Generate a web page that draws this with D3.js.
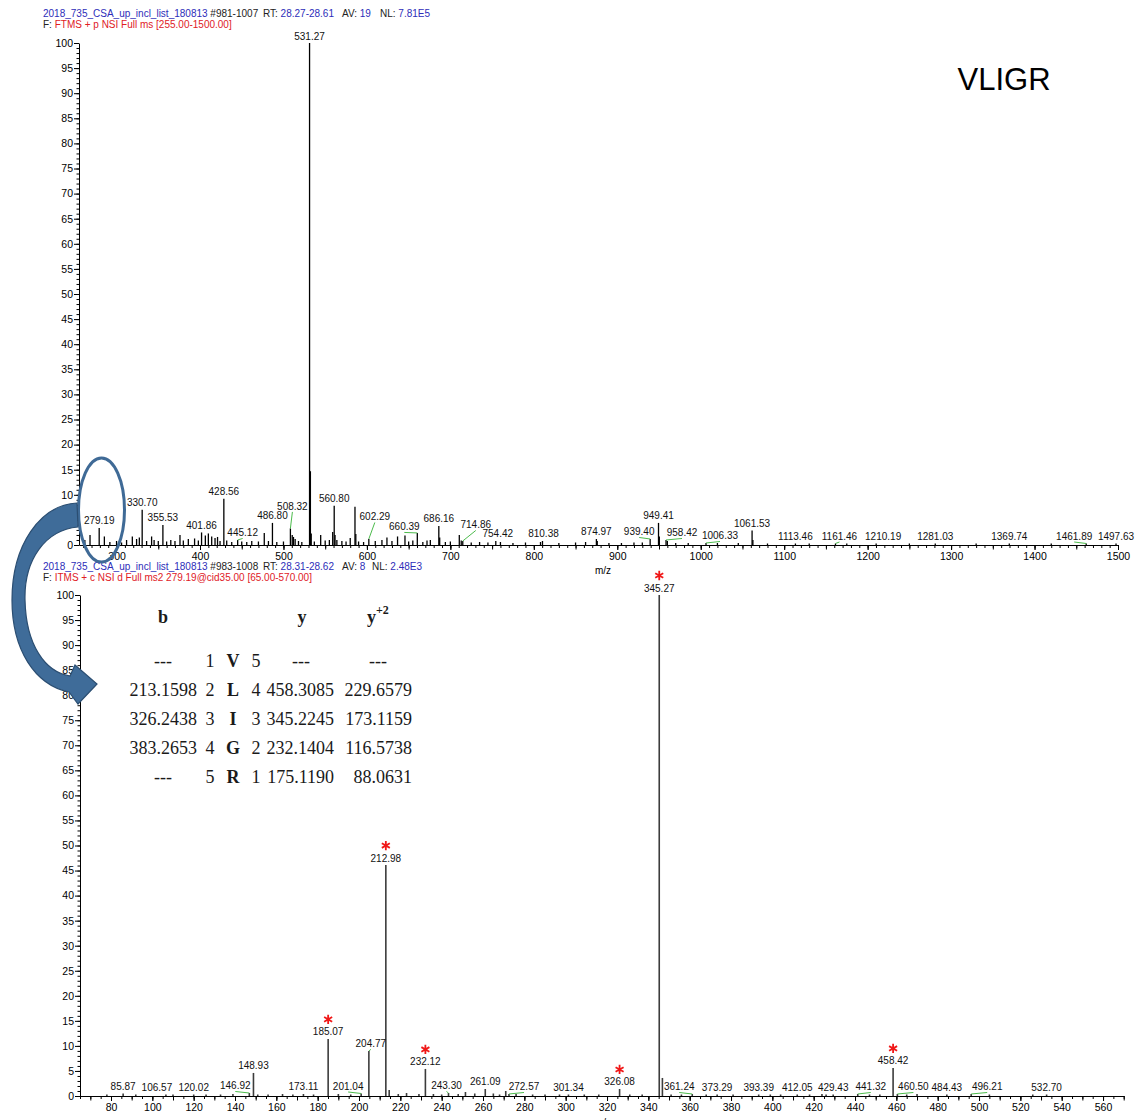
<!DOCTYPE html>
<html>
<head>
<meta charset="utf-8">
<script src="https://cdn.jsdelivr.net/npm/d3@7"></script>
<style>
  body { margin: 0; background: #fff; }
  svg { display: block; }
  text { font-family: "Liberation Sans", Arial, sans-serif; }
</style>
</head>
<body>
<svg id="chart" width="1143" height="1120"></svg>
<script>
// ---- MS1 full scan, labelled peaks (m/z, relative abundance %)
var ms1Mz  = [279.19, 330.70, 355.53, 401.86, 428.56, 445.12, 486.80, 508.32, 531.27, 560.80,
              602.29, 660.39, 686.16, 714.86, 754.42, 810.38, 874.97, 939.40, 949.41, 958.42,
              1006.33, 1061.53, 1113.46, 1161.46, 1210.19, 1281.03, 1369.74, 1461.89, 1497.63];
var ms1Int = [3.4, 7.0, 4.0, 2.5, 9.2, 1.0, 4.4, 3.3, 100, 7.8,
              1.2, 2.4, 3.8, 0.8, 0.8, 0.8, 1.2, 1.2, 4.4, 1.0,
              0.4, 2.9, 0.3, 0.3, 0.3, 0.3, 0.3, 0.3, 0.3];
// ---- MS1 unlabelled peaks
var ms1MinorMz  = [262, 268.2, 285.4, 292, 300, 306, 312, 318.9, 324, 327.3, 336, 342, 345, 350, 360, 365, 370, 376, 380, 386,
                   393.5, 398, 406.4, 410, 414, 418, 421, 424, 432, 438, 450, 456, 462, 470, 477, 482, 492, 500, 510.5, 512,
                   514, 518, 522, 532.27, 533.27, 537, 544.6, 550, 555, 559, 561.8, 564, 570, 575, 580, 585.7, 586.7, 590, 596, 610,
                   618, 624, 630, 636.7, 645.6, 650, 655, 667, 672, 676, 687.2, 694, 700, 710.7, 713, 725, 735, 745, 760, 775,
                   790, 808, 830, 850, 862, 876, 890, 905, 920, 930, 950.4, 960, 970, 985, 1020, 1045, 1062.5, 1080, 1130, 1175,
                   1250, 1330, 1420];
var ms1MinorInt = [1.0, 2.0, 1.7, 0.6, 0.8, 0.5, 1.0, 1.7, 1.2, 1.5, 0.8, 1.7, 1.0, 0.8, 0.7, 1.0, 0.8, 2.0, 0.9, 1.2,
                   1.3, 0.9, 1.9, 2.3, 1.7, 1.4, 1.6, 0.8, 0.9, 0.6, 0.7, 0.6, 0.8, 0.7, 2.4, 0.8, 0.6, 0.7, 2.0, 1.6,
                   1.2, 0.8, 0.6, 14.7, 2.3, 0.7, 2.0, 0.9, 1.0, 2.6, 2.0, 1.0, 0.8, 0.7, 1.4, 7.6, 2.2, 0.7, 0.6, 0.8,
                   1.0, 1.5, 0.8, 1.7, 1.9, 0.7, 0.9, 0.6, 0.9, 1.0, 1.5, 0.6, 0.7, 2.0, 0.9, 0.5, 0.6, 0.5, 0.6, 0.4,
                   0.5, 0.6, 0.4, 0.5, 0.6, 0.8, 0.4, 0.4, 0.5, 0.5, 1.7, 0.8, 0.4, 0.4, 0.4, 0.4, 1.0, 0.3, 0.3, 0.3,
                   0.3, 0.3, 0.3];

// ---- MS2 of 279.19, labelled peaks
var ms2Mz  = [85.87, 106.57, 120.02, 146.92, 148.93, 173.11, 185.07, 201.04, 204.77, 212.98,
              232.12, 243.30, 261.09, 272.57, 301.34, 326.08, 345.27, 361.24, 373.29, 393.39,
              412.05, 429.43, 441.32, 458.42, 460.50, 484.43, 496.21, 532.70];
var ms2Int = [0.5, 0.3, 0.3, 0.6, 4.6, 0.4, 11.4, 0.5, 9.0, 46.1,
              5.4, 0.6, 1.4, 0.4, 0.3, 1.4, 100, 0.4, 0.3, 0.3,
              0.3, 0.3, 0.4, 5.6, 0.4, 0.3, 0.4, 0.3];
// peaks matched to fragment ions (red asterisk)
var ms2Matched = [185.07, 212.98, 232.12, 326.08, 345.27, 458.42];
// ---- MS2 unlabelled peaks
var ms2MinorMz  = [78, 92, 110, 126, 133, 139, 151, 156, 163, 168, 178, 190, 196, 214.6, 219, 223, 229, 236, 240, 248,
                   251.5, 256, 265, 268, 271, 276, 284, 290, 297, 309, 316, 331, 337, 346.8, 351, 356, 368, 381, 399, 404,
                   418, 424, 426, 447, 452, 465, 470, 505, 526];
var ms2MinorInt = [0.3, 0.3, 0.3, 0.3, 0.3, 0.4, 0.3, 0.3, 0.4, 0.3, 0.3, 0.4, 0.3, 1.2, 0.4, 0.6, 0.4, 0.4, 0.3, 0.4,
                   0.8, 0.5, 0.5, 0.3, 1.0, 0.4, 0.3, 0.3, 0.3, 0.3, 0.3, 0.3, 0.3, 3.6, 0.3, 0.3, 0.3, 0.3, 0.3, 0.3,
                   0.3, 0.4, 0.3, 0.3, 0.3, 0.3, 0.4, 0.3, 0.3];

// ---- fragment ion table for VLIGR
var bIons     = ["---", "213.1598", "326.2438", "383.2653", "---"];
var bIndex    = ["1", "2", "3", "4", "5"];
var residues  = ["V", "L", "I", "G", "R"];
var yIndex    = ["5", "4", "3", "2", "1"];
var yIons     = ["---", "458.3085", "345.2245", "232.1404", "175.1190"];
var y2Ions    = ["---", "229.6579", "173.1159", "116.5738", "88.0631"];

var peptide = "VLIGR";

// ---------------------------------------------------------------
var svg = d3.select("#chart");
var fmt = d3.format(".2f");
var BLUE = "#2d2db9", RED = "#e0201f", GREEN = "#4cbb4c";

function header(y, parts) {
  var t = svg.append("text").attr("y", y).attr("font-size", 10);
  parts.forEach(function (p) {
    var s = t.append("tspan").attr("fill", p[1]).text(p[0]);
    if (p[2] != null) s.attr("x", p[2]);
  });
}

function drawPanel(o) {
  var g = svg.append("g");
  var y0 = o.y(0);
  var xr = o.x.range();

  // minor y ticks
  g.append("g").attr("transform", "translate(" + xr[0] + ",0)")
    .call(d3.axisLeft(o.y).tickValues(d3.range(0, 101, 1)).tickSize(2.5).tickFormat(""))
    .call(function (a) { a.select(".domain").remove(); });
  // major y ticks
  g.append("g").attr("transform", "translate(" + xr[0] + ",0)")
    .call(d3.axisLeft(o.y).tickValues(d3.range(0, 101, 5)).tickSize(5).tickSizeOuter(0).tickPadding(1))
    .call(function (a) { a.selectAll("text").attr("font-size", 10.5).attr("font-family", null); });

  // minor x ticks
  g.append("g").attr("transform", "translate(0," + y0 + ")")
    .call(d3.axisBottom(o.x).tickValues(o.minorTicks).tickSize(3).tickFormat(""))
    .call(function (a) { a.select(".domain").remove(); });
  g.append("g").attr("transform", "translate(0," + y0 + ")")
    .call(d3.axisBottom(o.x).tickValues(o.midTicks).tickSize(4.5).tickFormat(""))
    .call(function (a) { a.select(".domain").remove(); });
  // major x ticks
  g.append("g").attr("transform", "translate(0," + y0 + ")")
    .call(d3.axisBottom(o.x).tickValues(o.majorTicks).tickSize(5).tickSizeOuter(0).tickFormat(d3.format("d")))
    .call(function (a) { a.selectAll("text").attr("font-size", 10.5).attr("font-family", null); });

  // peaks
  var minor = o.minorMz.map(function (m, i) { return { mz: m, v: o.minorInt[i] }; });
  var main = o.mz.map(function (m, i) { return { mz: m, v: o.int[i] }; });
  g.append("g").selectAll("line").data(minor.concat(main)).join("line")
    .attr("x1", function (d) { return o.x(d.mz); })
    .attr("x2", function (d) { return o.x(d.mz); })
    .attr("y1", y0)
    .attr("y2", function (d) { return o.y(d.v); })
    .attr("stroke", o.peakColor).attr("stroke-width", o.peakWidth);

  // labels
  main.forEach(function (d) {
    var key = fmt(d.mz);
    var n = o.nudge[key] || [0, 0];
    var px = o.x(d.mz), py = o.y(d.v);
    var lx = px + n[0], ly = py - 3.5 + n[1];
    if (o.leaders.indexOf(key) >= 0) {
      g.append("line").attr("x1", lx).attr("y1", ly + 2).attr("x2", px).attr("y2", py)
        .attr("stroke", GREEN).attr("stroke-width", 1);
    }
    g.append("text").attr("x", lx).attr("y", ly).attr("text-anchor", "middle")
      .attr("font-size", 10).attr("fill", "#111").text(key);
    if (o.matched && o.matched.indexOf(d.mz) >= 0) {
      g.append("path").attr("d", d3.symbol(d3.symbolAsterisk, 60)())
        .attr("transform", "translate(" + lx + "," + (ly - 16) + ")")
        .attr("stroke", "#f01818").attr("stroke-width", 1.8).attr("fill", "none");
    }
  });
}

// ---- top panel: full MS
var x1 = d3.scaleLinear().domain([255, 1500]).range([79, 1118]);
var y1 = d3.scaleLinear().domain([0, 100]).range([545, 43]);

header(17, [["2018_735_CSA_up_incl_list_180813", BLUE, 43], [" #981-1007", "#222"],
            ["RT: ", "#222", 263], ["28.27-28.61", BLUE], ["AV: ", "#222", 342], ["19", BLUE],
            ["NL: ", "#222", 380], ["7.81E5", BLUE]]);
header(28, [["F: ", "#222", 43], ["FTMS + p NSI Full ms [255.00-1500.00]", RED]]);

drawPanel({
  x: x1, y: y1,
  mz: ms1Mz, int: ms1Int, minorMz: ms1MinorMz, minorInt: ms1MinorInt,
  majorTicks: d3.range(300, 1501, 100),
  midTicks: d3.range(300, 1501, 50),
  minorTicks: d3.range(260, 1501, 10),
  peakColor: "#000", peakWidth: 1.3,
  nudge: { "445.12": [5, 0], "508.32": [2, -15], "602.29": [6, -15], "660.39": [-13, 1], "714.86": [13, -9],
           "754.42": [2, 0], "810.38": [1, 0], "939.40": [-11, 0], "958.42": [16, 0], "1006.33": [14, 0],
           "1161.46": [4, 0], "1210.19": [7, 0], "1461.89": [-12, 0] },
  leaders: ["445.12", "508.32", "602.29", "660.39", "714.86", "939.40", "958.42", "1006.33", "1161.46", "1461.89"]
});
svg.append("text").attr("x", 603).attr("y", 574).attr("text-anchor", "middle")
  .attr("font-size", 10).text("m/z");

// ---- bottom panel: MS2 of 279.19
var x2 = d3.scaleLinear().domain([65, 570]).range([80, 1123.7]);
var y2 = d3.scaleLinear().domain([0, 100]).range([1096, 595]);

header(570, [["2018_735_CSA_up_incl_list_180813", BLUE, 43], [" #983-1008", "#222"],
             ["RT: ", "#222", 263], ["28.31-28.62", BLUE], ["AV: ", "#222", 342], ["8", BLUE],
             ["NL: ", "#222", 372], ["2.48E3", BLUE]]);
header(581, [["F: ", "#222", 43], ["ITMS + c NSI d Full ms2 279.19@cid35.00 [65.00-570.00]", RED]]);

drawPanel({
  x: x2, y: y2,
  mz: ms2Mz, int: ms2Int, minorMz: ms2MinorMz, minorInt: ms2MinorInt,
  majorTicks: d3.range(80, 561, 20),
  midTicks: d3.range(70, 571, 10),
  minorTicks: d3.range(65, 571, 5),
  peakColor: "#3c3c3c", peakWidth: 1.6,
  matched: ms2Matched,
  nudge: { "106.57": [-9, 0], "146.92": [-14, 0], "201.04": [-13, 0], "204.77": [2, 0], "243.30": [-2, 0],
           "272.57": [15, 0], "361.24": [-13, 0], "441.32": [13, 0], "460.50": [16, 0], "496.21": [16, 0] },
  leaders: ["146.92", "201.04", "204.77", "243.30", "272.57", "361.24", "441.32", "460.50", "496.21"]
});
svg.append("text").attr("x", 603).attr("y", 1126).attr("text-anchor", "middle")
  .attr("font-size", 10).text("m/z");

// ---- peptide name
svg.append("text").attr("x", 1004).attr("y", 90).attr("text-anchor", "middle")
  .attr("font-family", "'Open Sans', sans-serif").attr("font-size", 31).text(peptide);

// ---- fragment table
var tab = svg.append("g").attr("font-size", 18).attr("fill", "#1a1a1a");
function cell(txt, x, y, anchor, bold) {
  tab.append("text").attr("x", x).attr("y", y).attr("text-anchor", anchor)
    .attr("font-weight", bold ? "bold" : null)
    .style("font-family", "'Liberation Serif', serif").text(txt);
}
cell("b", 163, 623, "middle", true);
cell("y", 302, 623, "middle", true);
var yh = tab.append("text").attr("x", 367).attr("y", 623).attr("font-weight", "bold")
  .style("font-family", "'Liberation Serif', serif");
yh.append("tspan").text("y");
yh.append("tspan").attr("dy", -9).attr("font-size", 12).text("+2");

residues.forEach(function (r, i) {
  var y = 667 + i * 29;
  if (bIons[i] === "---") cell(bIons[i], 163, y, "middle"); else cell(bIons[i], 197, y, "end");
  cell(bIndex[i], 210, y, "middle");
  cell(r, 233, y, "middle", true);
  cell(yIndex[i], 256, y, "middle");
  if (yIons[i] === "---") cell(yIons[i], 301, y, "middle"); else cell(yIons[i], 334, y, "end");
  if (y2Ions[i] === "---") cell(y2Ions[i], 378, y, "middle"); else cell(y2Ions[i], 412, y, "end");
});

// ---- annotation: precursor ellipse and curved arrow
svg.append("ellipse").attr("cx", 101.5).attr("cy", 510).attr("rx", 23).attr("ry", 52)
  .attr("fill", "none").attr("stroke", "#3f6a96").attr("stroke-width", 3);

svg.append("path")
  .attr("d", "M77,503 C40,505 12,545 12,600 C12,650 35,685 69,692 L78,704 L97,684 L75,665 L70,676 " +
             "C45,672 26,645 25,600 C24,560 45,530 78,527 Z")
  .attr("fill", "#3f6c99").attr("stroke", "#2b4e72").attr("stroke-width", 1.2);
</script>
</body>
</html>
